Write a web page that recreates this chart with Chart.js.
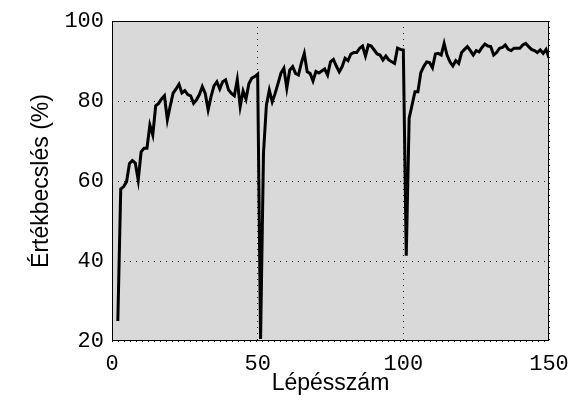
<!DOCTYPE html>
<html>
<head>
<meta charset="utf-8">
<script src="https://cdn.jsdelivr.net/npm/chart.js@4/dist/chart.umd.min.js"></script>
<style>
  html, body { margin: 0; padding: 0; background: #fff; }
  #wrap { width: 571px; height: 402px; }
</style>
</head>
<body>
<div id="wrap"><canvas id="accChart" width="571" height="402"></canvas></div>
<script>
// step numbers on the x axis (first recorded step is 2)
const steps = [
  2, 3, 4, 5, 6, 7, 8, 9, 10, 11, 12, 13, 14, 15, 16, 17, 18, 19, 20,
  21, 22, 23, 24, 25, 26, 27, 28, 29, 30, 31, 32, 33, 34, 35, 36, 37, 38, 39, 40,
  41, 42, 43, 44, 45, 46, 47, 48, 49, 50, 51, 52, 53, 54, 55, 56, 57, 58, 59, 60,
  61, 62, 63, 64, 65, 66, 67, 68, 69, 70, 71, 72, 73, 74, 75, 76, 77, 78, 79, 80,
  81, 82, 83, 84, 85, 86, 87, 88, 89, 90, 91, 92, 93, 94, 95, 96, 97, 98, 99, 100,
  101, 102, 103, 104, 105, 106, 107, 108, 109, 110, 111, 112, 113, 114, 115, 116, 117, 118, 119, 120,
  121, 122, 123, 124, 125, 126, 127, 128, 129, 130, 131, 132, 133, 134, 135, 136, 137, 138, 139, 140,
  141, 142, 143, 144, 145, 146, 147, 148, 149, 150
];

// accuracy estimate (%) per step
const accuracy = [
  25, 58, 58.6, 59.8, 64.4, 65.1, 64.5, 60.2, 67.3, 68.2, 68.2, 74, 71.5, 78.8, 79.4, 80.5, 81.3, 75.3, 78.8,
  82, 83, 84.2, 82, 82.6, 81.6, 81.3, 79.4, 80.3, 81.6, 83.6, 81.9, 77.8, 81.1, 83.8, 84.8, 83, 84.8, 85.3, 82.8,
  81.9, 81.3, 85.3, 78.6, 82.5, 80.5, 84.4, 85.7, 86.1, 86.7, 20.5, 67, 79, 82.7, 79.8, 81.9, 84.4, 87, 88.2, 83.2,
  87.7, 88.6, 86.9, 86.5, 89.5, 91.9, 87.3, 86.9, 85, 87.4, 87, 87.5, 88, 86.5, 89.8, 90.4, 88.75, 87.3, 88.6, 90.7,
  90.1, 91.75, 92.1, 92.1, 93.2, 93.75, 91.25, 94, 93.75, 92.75, 91.75, 91.5, 90.25, 91.25, 90.25, 89.8, 89.4, 93.2, 92.9, 92.75,
  41.3, 75.7, 79, 82.3, 82.3, 87.1, 88.6, 89.75, 89.6, 88.3, 91.75, 91.9, 91.5, 94.4, 91.5, 89.8, 88.75, 90.1, 89.4, 92.1,
  92.9, 93.6, 92.6, 91.5, 92.6, 92.3, 93.4, 94.25, 93.75, 93.6, 91.5, 92.1, 93.2, 93.4, 94, 92.9, 92.6, 93.2, 93.2, 93.2,
  94, 94.4, 93.6, 92.9, 92.6, 92.1, 92.75, 91.9, 92.9, 90.8
];

const xTicks = [0, 50, 100, 150];
const yTicks = [20, 40, 60, 80, 100];

// grey plot background + black frame, like the matplotlib axes
const plotFrame = {
  id: 'plotFrame',
  beforeDraw(chart) {
    const { ctx, chartArea: a } = chart;
    ctx.save();
    ctx.fillStyle = '#d9d9d9';
    ctx.fillRect(a.left, a.top, a.right - a.left, a.bottom - a.top);
    ctx.restore();
  },
  afterDraw(chart) {
    const { ctx, chartArea: a } = chart;
    ctx.save();
    ctx.strokeStyle = '#000';
    ctx.lineWidth = 1;
    ctx.strokeRect(a.left + 0.5, a.top + 0.5, a.right - a.left - 1, a.bottom - a.top - 1);
    ctx.restore();
  }
};

const tickFont = { family: '"Liberation Mono", "DejaVu Sans Mono", monospace', size: 22 };
const titleFont = { family: '"Liberation Sans", Arial, sans-serif', size: 23 };

// keep the plot box fixed: labels may hang over the edges
function noEdgePadding(s) {
  s.paddingLeft = 0; s.paddingRight = 0; s.paddingTop = 0; s.paddingBottom = 0;
}

new Chart(document.getElementById('accChart').getContext('2d'), {
  type: 'line',
  data: {
    labels: steps,
    datasets: [{
      data: accuracy,
      borderColor: '#000',
      borderWidth: 3,
      pointRadius: 0,
      tension: 0,
      fill: false
    }]
  },
  options: {
    responsive: false,
    animation: false,
    layout: { padding: { top: 21, right: 22, left: 0, bottom: 0 } },
    plugins: { legend: { display: false }, tooltip: { enabled: false } },
    scales: {
      x: {
        type: 'linear',
        min: 0, max: 150,
        afterBuildTicks: s => { s.ticks = xTicks.map(v => ({ value: v })); },
        afterFit: s => { s.height = 61; noEdgePadding(s); },
        ticks: { font: tickFont, color: '#000', padding: 10, maxRotation: 0 },
        grid: { color: '#222', lineWidth: 1, drawTicks: false },
        border: { display: false, dash: [1, 5] },
        title: { display: true, text: 'Lépésszám', font: titleFont, color: '#000', padding: { top: 0, bottom: 5 } }
      },
      y: {
        min: 20, max: 100,
        afterBuildTicks: s => { s.ticks = yTicks.map(v => ({ value: v })); },
        afterFit: s => { s.width = 112; noEdgePadding(s); },
        ticks: { font: tickFont, color: '#000', padding: 8 },
        grid: { color: '#222', lineWidth: 1, drawTicks: false },
        border: { display: false, dash: [1, 5] },
        title: { display: true, text: 'Értékbecslés (%)', font: titleFont, color: '#000', padding: { top: 28, bottom: 0 } }
      }
    }
  },
  plugins: [plotFrame]
});
</script>
</body>
</html>
